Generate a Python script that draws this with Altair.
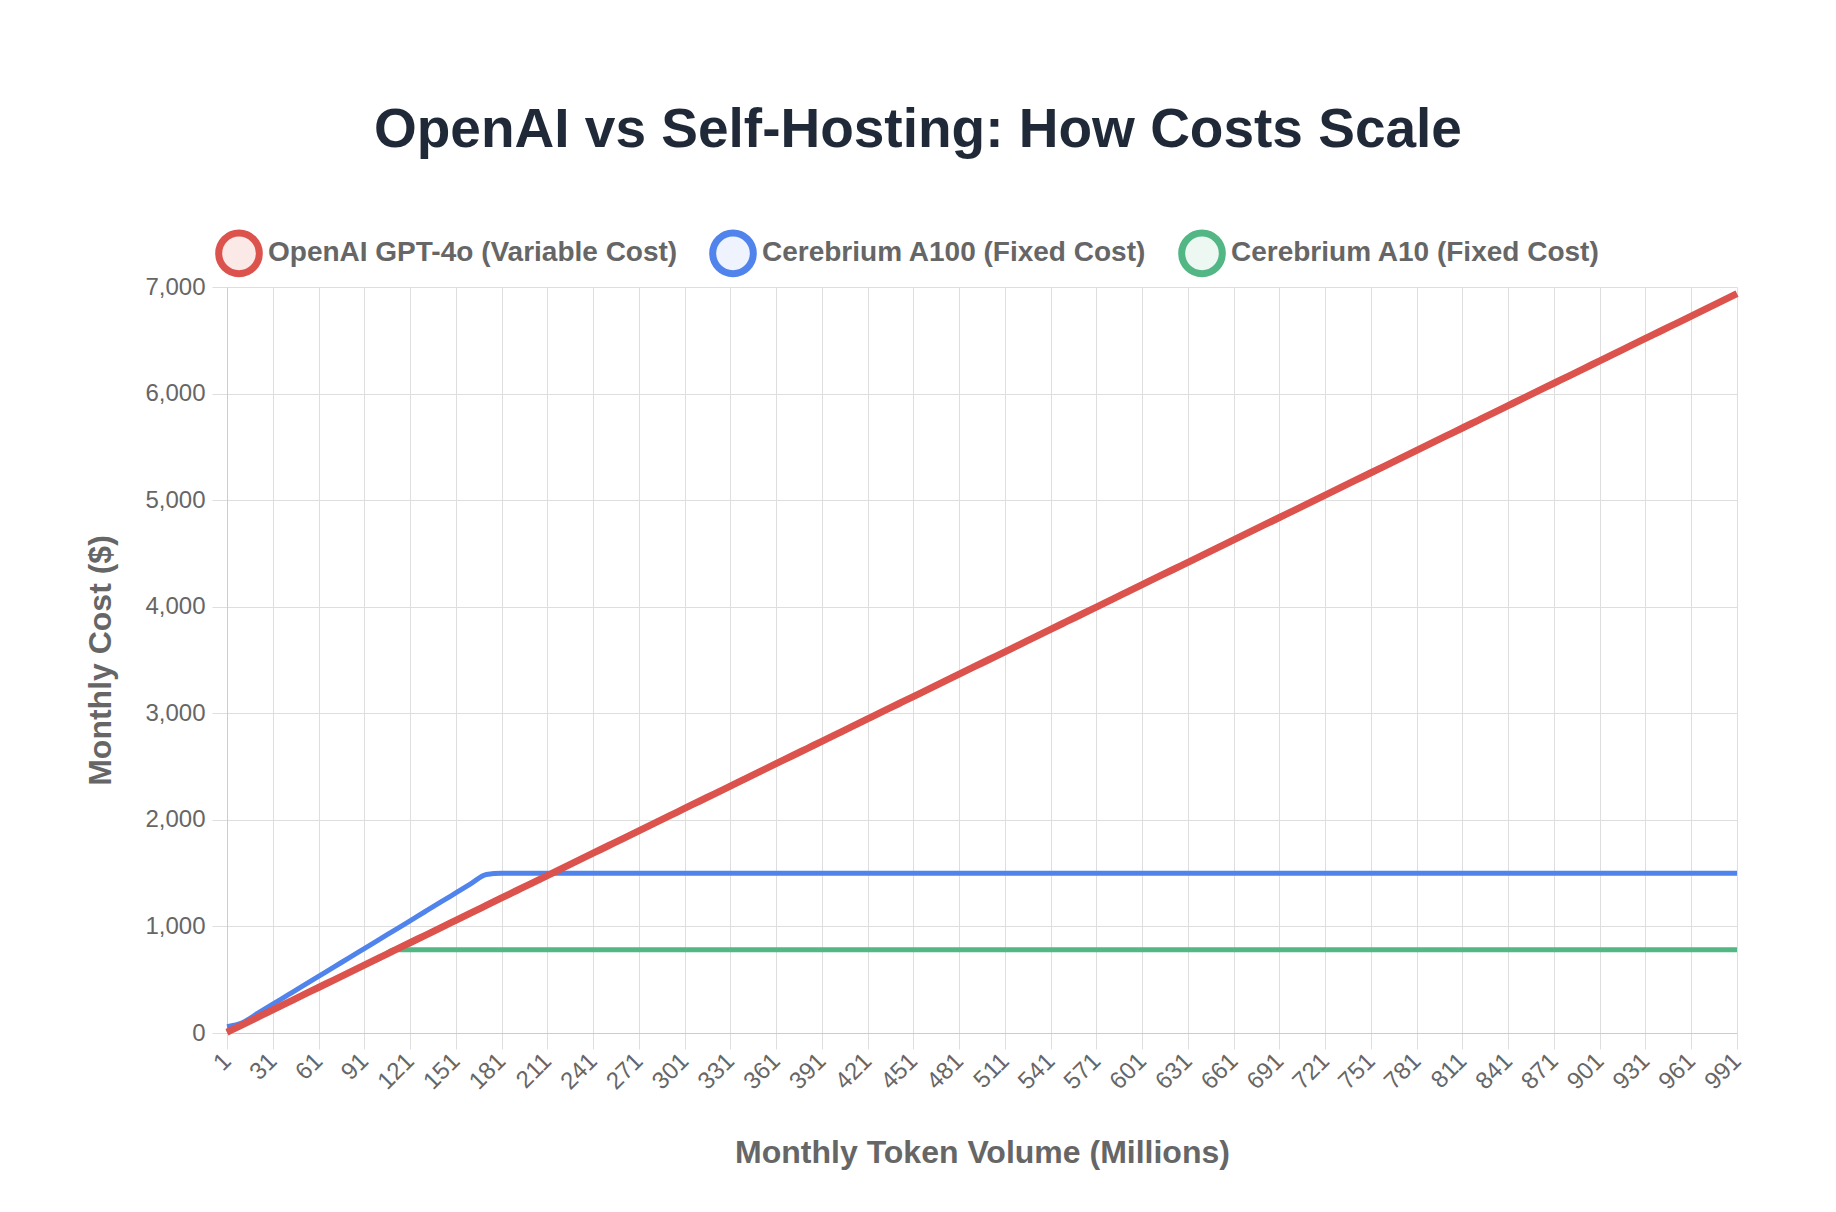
import altair as alt
import pandas as pd

# Monthly token volume (millions) categories
volume = list(range(1, 1001, 10))

openai_cost = [7, 77, 147, 217, 287, 357, 427, 497, 567, 637, 707, 777, 847, 917, 987,
               1057, 1127, 1197, 1267, 1337, 1407, 1477, 1547, 1617, 1687, 1757, 1827,
               1897, 1967, 2037, 2107, 2177, 2247, 2317, 2387, 2457, 2527, 2597, 2667,
               2737, 2807, 2877, 2947, 3017, 3087, 3157, 3227, 3297, 3367, 3437, 3507,
               3577, 3647, 3717, 3787, 3857, 3927, 3997, 4067, 4137, 4207, 4277, 4347,
               4417, 4487, 4557, 4627, 4697, 4767, 4837, 4907, 4977, 5047, 5117, 5187,
               5257, 5327, 5397, 5467, 5537, 5607, 5677, 5747, 5817, 5887, 5957, 6027,
               6097, 6167, 6237, 6307, 6377, 6447, 6517, 6587, 6657, 6727, 6797, 6867, 6937]

a100_cost = [60, 96, 183, 270, 357, 444, 531, 618, 705, 792, 879, 966, 1053, 1140,
             1227, 1314, 1401, 1488] + [1500] * 82

a10_cost = [7, 77, 147, 217, 287, 357, 427, 497, 567, 637, 700] + [780] * 89

series_names = ["OpenAI GPT-4o (Variable Cost)", "Cerebrium A100 (Fixed Cost)", "Cerebrium A10 (Fixed Cost)"]
series_colors = ["#dc524c", "#5084ec", "#52b685"]
series_fills = ["#fbe9e8", "#eef3fd", "#eef8f3"]

x_ticks = list(range(1, 1001, 30))
y_ticks = [0, 1000, 2000, 3000, 4000, 5000, 6000, 7000]

rows = []
for name, vals in zip(series_names, [openai_cost, a100_cost, a10_cost]):
    for v, c in zip(volume, vals):
        rows.append({"volume": v, "cost": c, "series": name})
df = pd.DataFrame(rows)

FONT = "Liberation Sans"
GRID = "#dedede"

legend = alt.Legend(
    orient="none", legendX=-12, legendY=-58, direction="horizontal",
    title=None, symbolType="circle", symbolSize=1650, symbolStrokeWidth=7,
    labelFont=FONT, labelFontSize=28, labelFontWeight="bold", labelColor="#666666",
    labelOffset=5, columnPadding=20, labelLimit=1000, padding=0, symbolOpacity=1,
)

stroke = alt.Stroke("series:N", scale=alt.Scale(domain=series_names, range=series_colors),
                    legend=legend)
fill = alt.Fill("series:N", scale=alt.Scale(domain=series_names, range=series_fills),
                legend=legend)

x = alt.X(
    "volume:Q",
    scale=alt.Scale(domain=[1, 991], nice=False, zero=False),
    axis=alt.Axis(
        values=x_ticks, title="Monthly Token Volume (Millions)", labelAngle=-45,
        labelAlign="right", labelBaseline="middle", labelFont=FONT, labelFontSize=24,
        labelColor="#666666", labelPadding=8, tickSize=16, tickColor=GRID,
        gridColor=GRID, domainColor="#cccccc", titleFont=FONT, titleFontSize=32,
        titleFontWeight="bold", titleColor="#666666", titlePadding=44, labelFlush=False,
        labelOverlap=False,
    ),
)
y = alt.Y(
    "cost:Q",
    scale=alt.Scale(domain=[0, 7000], nice=False),
    axis=alt.Axis(
        values=y_ticks, format=",d",
        title="Monthly Cost ($)", labelFont=FONT, labelFontSize=24, labelColor="#666666",
        labelPadding=7, tickSize=15, tickColor=GRID, gridColor=GRID,
        domainColor="#cccccc", titleFont=FONT, titleFontSize=32, titleFontWeight="bold",
        titleColor="#666666", titlePadding=27, labelFlush=False,
    ),
)

base = alt.Chart(df).encode(x=x, y=y, stroke=stroke)

# legend carrier: no drawn points, provides fill + stroke to the legend symbols
legend_layer = alt.Chart(df).transform_filter("false").mark_point(
    filled=True, shape="circle", strokeWidth=7, opacity=1).encode(
    x=x, y=y, stroke=stroke, fill=fill)

layer_a10 = base.transform_filter(alt.datum.series == series_names[2]).mark_line(
    strokeWidth=5, interpolate="monotone")
layer_a100 = base.transform_filter(alt.datum.series == series_names[1]).mark_line(
    strokeWidth=5, interpolate="monotone")
layer_openai = base.transform_filter(alt.datum.series == series_names[0]).mark_line(
    strokeWidth=7, interpolate="monotone")

chart = alt.layer(legend_layer, layer_a10, layer_a100, layer_openai).properties(
    width=1510, height=746,
    autosize=alt.AutoSizeParams(type="none"),
    padding={"left": 227, "top": 287, "right": 99, "bottom": 179},
    title=alt.TitleParams(
        text="OpenAI vs Self-Hosting: How Costs Scale", font=FONT, fontSize=55,
        fontWeight="bold", color="#1f2937", anchor="middle", offset=70, frame="bounds",
    ),
    background="white",
).configure_view(stroke=None)

chart.save("out.html", embed_options={"renderer": "svg", "actions": False})
